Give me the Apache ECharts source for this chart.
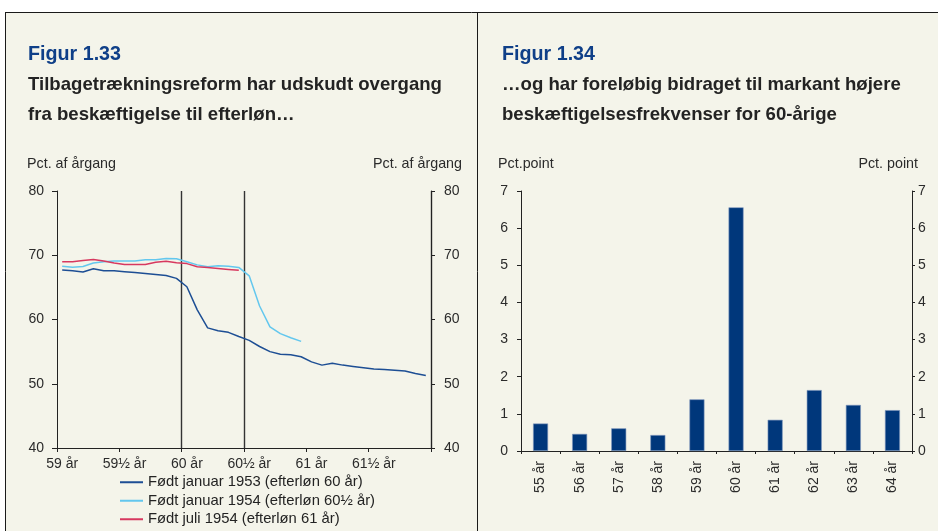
<!DOCTYPE html>
<html>
<head>
<meta charset="utf-8">
<script src="https://cdn.jsdelivr.net/npm/echarts@6.0.0/dist/echarts.min.js"></script>
<style>
    html, body { margin: 0; padding: 0; background: #fff; }
    #chart { width: 938px; height: 531px; }
</style>
</head>
<body>
<div id="chart"></div>
<script>
// Figur 1.33 - monthly share of cohort in employment, 59 to 61 11/12 years
const halfYearLabels = ['59 år', '59½ år', '60 år', '60½ år', '61 år', '61½ år']
const seriesNames = [
    'Født januar 1953 (efterløn 60 år)',
    'Født januar 1954 (efterløn 60½ år)',
    'Født juli 1954 (efterløn 61 år)'
]
const born1953 = [67.7, 67.6, 67.4, 67.9, 67.6, 67.6, 67.45, 67.3, 67.15, 67.0, 66.85, 66.4,
    65.1, 61.5, 58.7, 58.25, 58.0, 57.35, 56.75, 55.8, 55.0, 54.6, 54.5, 54.2,
    53.4, 52.9, 53.2, 52.9, 52.7, 52.5, 52.3, 52.2, 52.1, 52.0, 51.6, 51.3]
const born1954jan = [68.3, 68.15, 68.25, 68.8, 69.0, 69.1, 69.1, 69.1, 69.3, 69.3, 69.5, 69.45,
    69.0, 68.5, 68.2, 68.35, 68.3, 68.1, 66.8, 62.1, 58.85, 57.8, 57.15, 56.6]
const born1954jul = [69.0, 69.0, 69.2, 69.35, 69.1, 68.8, 68.55, 68.55, 68.55, 68.9, 69.05, 68.85,
    68.7, 68.2, 68.1, 67.95, 67.8, 67.65]
// vertical markers at 60 år and 60½ år (month index)
const markerMonths = [12, 18]

// Figur 1.34 - change in employment rate, pct. point
const ageCategories = ['55 år', '56 år', '57 år', '58 år', '59 år', '60 år', '61 år', '62 år', '63 år', '64 år']
const ageChange = [0.74, 0.46, 0.61, 0.43, 1.39, 6.56, 0.84, 1.64, 1.24, 1.1]

// one category per month, named after the half year it belongs to
const months = []
for (let i = 0; i < 36; i++) {
    const label = halfYearLabels[Math.floor(i / 6)]
    months.push(i % 6 === 0 ? label : label + ' +' + (i % 6) + ' md')
}

const font = '"Liberation Sans", Arial, Helvetica, sans-serif'
const axisColor = '#222'
const labelColor = '#2b2b2b'

function titleText (text, pos, style) {
    return Object.assign({ text: text, padding: 0, textStyle: Object.assign({ fontFamily: font }, style) }, pos)
}

function valueAxis (gridIndex, position, min, max, interval, margin, tickLen) {
    return {
        type: 'value',
        gridIndex: gridIndex,
        position: position,
        min: min,
        max: max,
        interval: interval,
        axisLine: { show: true, lineStyle: { color: axisColor, width: 1 } },
        axisTick: { show: true, length: tickLen, lineStyle: { color: axisColor } },
        axisLabel: { margin: margin, fontSize: 14, color: labelColor, fontFamily: font },
        splitLine: { show: false }
    }
}

const chart = echarts.init(document.getElementById('chart'))

const option = {
    backgroundColor: '#f4f4ea',
    animation: false,
    color: ['#1d4e94', '#63c7ee', '#d7385f'],
    title: [
        titleText('Figur 1.33', { left: 28, top: 45 }, { fontSize: 19.7, fontWeight: 'bold', color: '#0f3f88' }),
        titleText('Tilbagetrækningsreform har udskudt overgang\nfra beskæftigelse til efterløn…', { left: 28, top: 70 },
            { fontSize: 18.6, fontWeight: 'bold', color: '#232323', lineHeight: 30 }),
        titleText('Figur 1.34', { left: 502, top: 45 }, { fontSize: 19.7, fontWeight: 'bold', color: '#0f3f88' }),
        titleText('…og har foreløbig bidraget til markant højere\nbeskæftigelsesfrekvenser for 60-årige', { left: 502, top: 70 },
            { fontSize: 18.6, fontWeight: 'bold', color: '#232323', lineHeight: 30 }),
        titleText('Pct. af årgang', { left: 27, top: 157 }, { fontSize: 14.3, fontWeight: 'normal', color: labelColor }),
        titleText('Pct. af årgang', { right: 476, top: 157 }, { fontSize: 14.3, fontWeight: 'normal', color: labelColor }),
        titleText('Pct.point', { left: 498, top: 157 }, { fontSize: 14.3, fontWeight: 'normal', color: labelColor }),
        titleText('Pct. point', { right: 20, top: 157 }, { fontSize: 14.3, fontWeight: 'normal', color: labelColor })
    ],
    legend: {
        orient: 'vertical',
        left: 120,
        top: 474,
        padding: 0,
        icon: 'rect',
        itemWidth: 23,
        itemHeight: 2,
        itemGap: 2,
        textStyle: { fontSize: 14.8, color: '#232323', fontFamily: font, lineHeight: 16.5 },
        data: seriesNames
    },
    grid: [
        { left: 57, top: 191, width: 374, height: 257 },
        { left: 521, top: 191, width: 391, height: 260 }
    ],
    xAxis: [
        {
            type: 'category',
            gridIndex: 0,
            data: months,
            boundaryGap: true,
            axisLine: { show: true, lineStyle: { color: axisColor, width: 1 } },
            axisTick: { show: true, interval: 5, length: 4, lineStyle: { color: axisColor } },
            axisLabel: { interval: 5, margin: 9, fontSize: 14, color: labelColor, fontFamily: font },
            splitLine: {
                show: true,
                interval: function (index) {
                    return markerMonths.indexOf(index) !== -1
                },
                lineStyle: { color: '#333', width: 1.4 }
            }
        },
        {
            type: 'category',
            gridIndex: 1,
            data: ageCategories,
            axisLine: { show: true, lineStyle: { color: axisColor, width: 1 } },
            axisTick: { show: true, length: 3, lineStyle: { color: axisColor } },
            axisLabel: { rotate: 90, margin: 10, fontSize: 14, color: labelColor, fontFamily: font },
            splitLine: { show: false }
        }
    ],
    yAxis: [
        valueAxis(0, 'left', 40, 80, 10, 13, 5),
        valueAxis(0, 'right', 40, 80, 10, 13, 4),
        valueAxis(1, 'left', 0, 7, 1, 13, 4),
        valueAxis(1, 'right', 0, 7, 1, 6, 3)
    ],
    series: [
        {
            name: seriesNames[0],
            type: 'line',
            xAxisIndex: 0,
            yAxisIndex: 0,
            data: born1953,
            showSymbol: false,
            lineStyle: { width: 1.5 }
        },
        {
            name: seriesNames[1],
            type: 'line',
            xAxisIndex: 0,
            yAxisIndex: 0,
            data: born1954jan,
            showSymbol: false,
            lineStyle: { width: 1.5 }
        },
        {
            name: seriesNames[2],
            type: 'line',
            xAxisIndex: 0,
            yAxisIndex: 0,
            data: born1954jul,
            showSymbol: false,
            lineStyle: { width: 1.5 }
        },
        {
            name: 'Ændring',
            type: 'bar',
            xAxisIndex: 1,
            yAxisIndex: 2,
            data: ageChange,
            barWidth: 15,
            itemStyle: { color: '#00377b', borderColor: '#7f97bd', borderWidth: 0.6 }
        }
    ],
    graphic: [
        { type: 'rect', silent: true, shape: { x: 0, y: 0, width: 938, height: 12 }, style: { fill: '#ffffff' } },
        { type: 'rect', silent: true, shape: { x: 0, y: 0, width: 5, height: 531 }, style: { fill: '#ffffff' } },
        { type: 'line', silent: true, shape: { x1: 5, y1: 12.5, x2: 938, y2: 12.5 }, style: { stroke: '#1a1a1a', lineWidth: 1 } },
        { type: 'line', silent: true, shape: { x1: 5.5, y1: 12, x2: 5.5, y2: 531 }, style: { stroke: '#1a1a1a', lineWidth: 1 } },
        { type: 'line', silent: true, shape: { x1: 477.5, y1: 12, x2: 477.5, y2: 531 }, style: { stroke: '#1a1a1a', lineWidth: 1 } }
    ]
}

chart.setOption(option)
</script>
</body>
</html>
